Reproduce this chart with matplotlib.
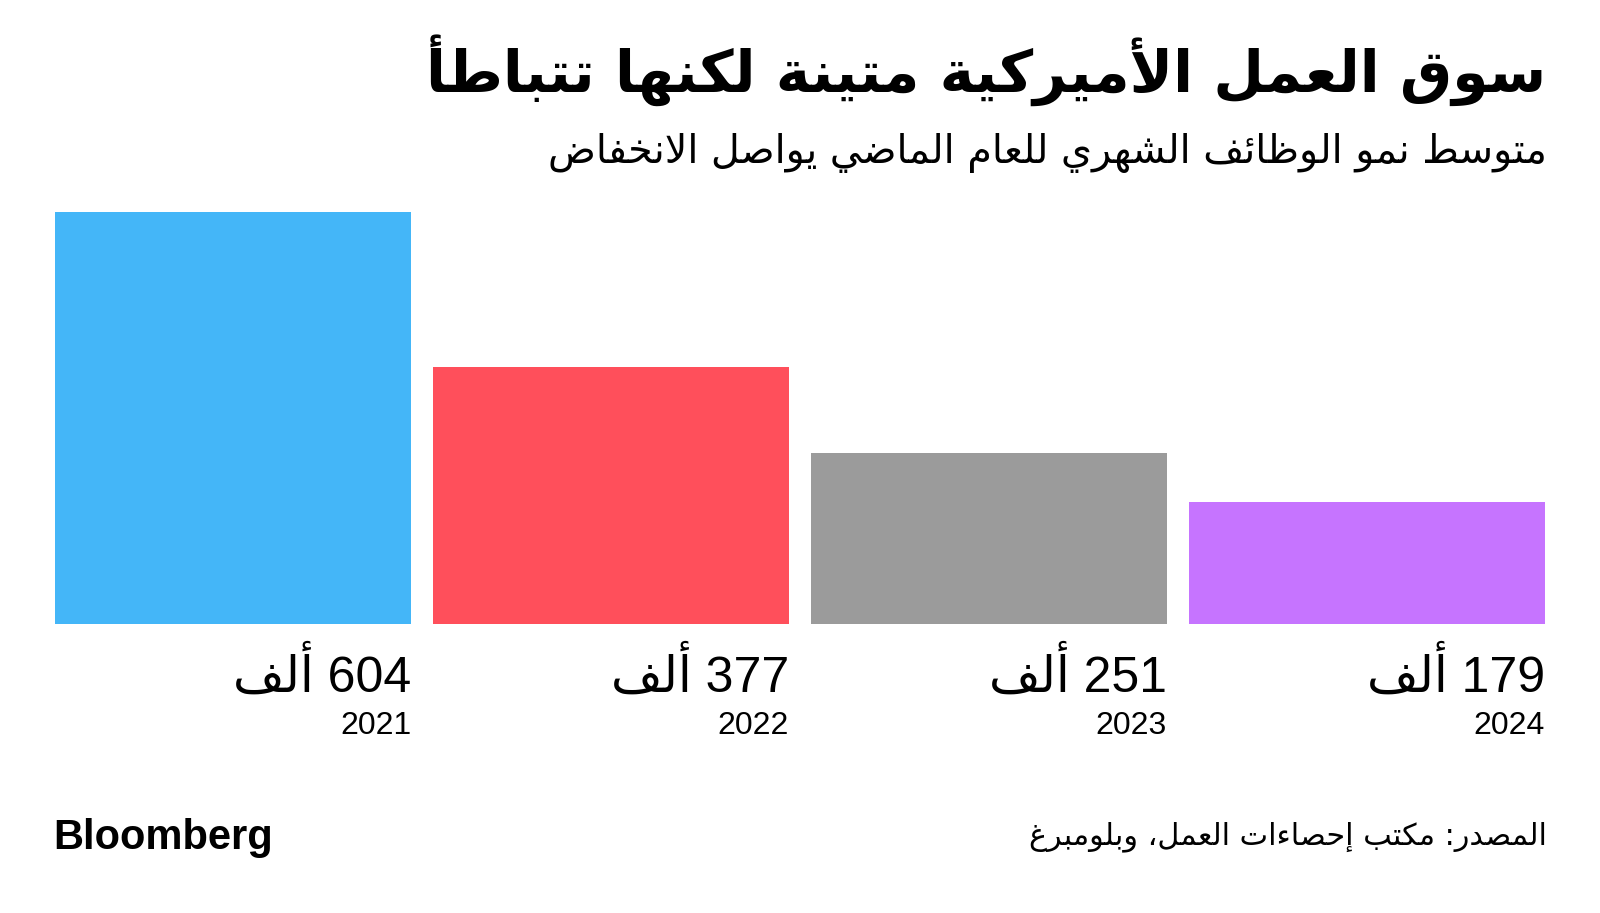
import re
import matplotlib
matplotlib.use("Agg")
import matplotlib.pyplot as plt
import matplotlib.transforms as mtransforms

# ---- data ----
years = ["2021", "2022", "2023", "2024"]
jobs_k = [604, 377, 251, 179]   # avg monthly job growth, thousands
bar_colors = ["#44B6F8", "#FF4F5B", "#9B9B9B", "#C674FF"]

title = "سوق العمل الأميركية متينة لكنها تتباطأ"
subtitle = "متوسط نمو الوظائف الشهري للعام الماضي يواصل الانخفاض"
unit = "ألف"
source = "المصدر: مكتب إحصاءات العمل، وبلومبرغ"

# ---- minimal arabic shaping (matplotlib has no text shaping) ----
ARABIC = {
    'ء': (0xFE80, 1), 'آ': (0xFE81, 2), 'أ': (0xFE83, 2), 'ؤ': (0xFE85, 2),
    'إ': (0xFE87, 2), 'ئ': (0xFE89, 4), 'ا': (0xFE8D, 2), 'ب': (0xFE8F, 4),
    'ة': (0xFE93, 2), 'ت': (0xFE95, 4), 'ث': (0xFE99, 4), 'ج': (0xFE9D, 4),
    'ح': (0xFEA1, 4), 'خ': (0xFEA5, 4), 'د': (0xFEA9, 2), 'ذ': (0xFEAB, 2),
    'ر': (0xFEAD, 2), 'ز': (0xFEAF, 2), 'س': (0xFEB1, 4), 'ش': (0xFEB5, 4),
    'ص': (0xFEB9, 4), 'ض': (0xFEBD, 4), 'ط': (0xFEC1, 4), 'ظ': (0xFEC5, 4),
    'ع': (0xFEC9, 4), 'غ': (0xFECD, 4), 'ف': (0xFED1, 4), 'ق': (0xFED5, 4),
    'ك': (0xFED9, 4), 'ل': (0xFEDD, 4), 'م': (0xFEE1, 4), 'ن': (0xFEE5, 4),
    'ه': (0xFEE9, 4), 'و': (0xFEED, 2), 'ى': (0xFEEF, 2), 'ي': (0xFEF1, 4),
}
LAM_ALEF = {'ا': 0xFEFB, 'أ': 0xFEF7, 'إ': 0xFEF9, 'آ': 0xFEF5}


def shape(text):
    out = []
    prev_joins = False
    i, n = 0, len(text)
    while i < n:
        c = text[i]
        if c not in ARABIC:
            out.append(c)
            prev_joins = False
            i += 1
            continue
        if c == 'ل' and i + 1 < n and text[i + 1] in LAM_ALEF:
            out.append(chr(LAM_ALEF[text[i + 1]] + (1 if prev_joins else 0)))
            prev_joins = False
            i += 2
            continue
        base, nf = ARABIC[c]
        nxt = text[i + 1] if i + 1 < n else ''
        join_next = nf == 4 and nxt in ARABIC and ARABIC[nxt][1] > 1
        if nf == 1:
            code = base
        elif prev_joins and join_next:
            code = base + 3
        elif prev_joins:
            code = base + 1
        elif join_next:
            code = base + 2
        else:
            code = base
        out.append(chr(code))
        prev_joins = nf == 4
        i += 1
    return ''.join(out)


def ar(text):
    # shape, then lay out right-to-left keeping digit runs in order
    s = shape(text)
    runs = re.findall(r'[0-9A-Za-z.]+|[^0-9A-Za-z.]+', s)
    return ''.join(r if r[0].isascii() and r[0].isalnum() else r[::-1]
                   for r in reversed(runs))


AR_FONT = ["DejaVu Sans"]
NUM_FONT = ["Liberation Sans", "DejaVu Sans"]

fig = plt.figure(figsize=(16, 9.13), dpi=100)
fig.patch.set_facecolor("white")

ax = fig.add_axes([55 / 1600, 1 - 623.5 / 913, 1490 / 1600, (623.5 - 212.5) / 913])
width = 0.943
x = range(len(jobs_k))
ax.bar(x, jobs_k, width=width, color=bar_colors)
ax.set_xlim(-width / 2, len(jobs_k) - 1 + width / 2)
ax.set_ylim(0, max(jobs_k))
ax.axis("off")

trans = mtransforms.blended_transform_factory(ax.transData, fig.transFigure)
for i, (v, yr) in enumerate(zip(jobs_k, years)):
    ax.text(i + width / 2, 0.242, ar(f"{v} {unit}"), transform=trans,
            ha="right", va="baseline", fontsize=36, family=NUM_FONT, color="black")
    ax.text(i + width / 2, 0.196, yr, transform=trans,
            ha="right", va="baseline", fontsize=23, family=NUM_FONT, color="black")

fig.text(0.9665, 0.899, ar(title), ha="right", va="baseline",
         fontsize=42, fontweight="bold", family=AR_FONT)
fig.text(0.9665, 0.8215, ar(subtitle), ha="right", va="baseline",
         fontsize=28.5, family=AR_FONT)
fig.text(0.9665, 0.0756, ar(source), ha="right", va="baseline",
         fontsize=21.8, family=AR_FONT)
fig.text(0.033, 0.070, "Bloomberg", ha="left", va="baseline",
         fontsize=30, fontweight="bold", family=["Liberation Sans"])

fig.savefig("out.png", dpi=100, facecolor="white")
